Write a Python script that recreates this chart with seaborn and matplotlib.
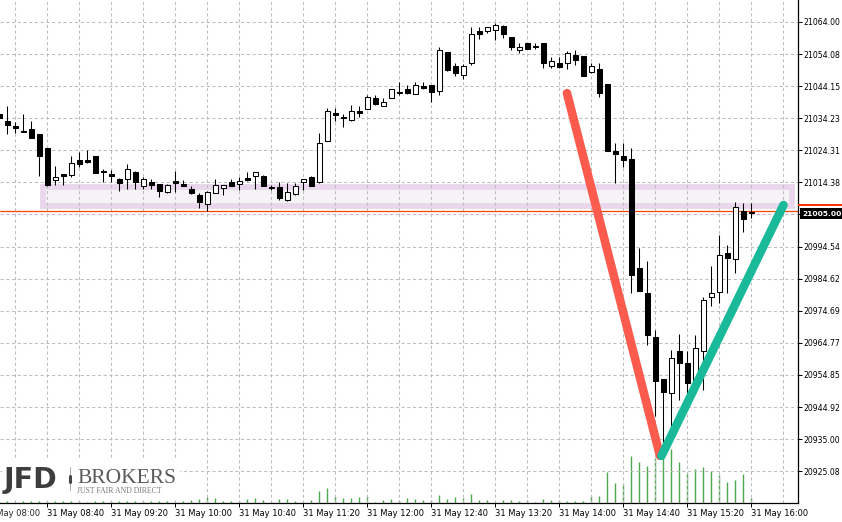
import numpy as np
import pandas as pd
import matplotlib
matplotlib.use("Agg")
import matplotlib.pyplot as plt
import matplotlib.dates as mdates
import matplotlib.transforms as mtransforms
from matplotlib.patches import Rectangle
from matplotlib.lines import Line2D
import seaborn as sns

# ---------------- data ----------------
times = pd.date_range("2024-05-31 08:10", periods=95, freq="5min")

opens = [21035.5, 21033.4, 21031.8, 21030.4, 21030.9, 21029.4, 21025.0, 21015.2, 21016.9, 21016.8,
         21021.2, 21021.3, 21022.5, 21017.9, 21016.9, 21015.3, 21015.5, 21017.6, 21013.4, 21014.4,
         21013.8, 21011.3, 21014.9, 21013.8, 21012.3, 21010.5, 21007.6, 21011.1, 21012.6, 21014.4,
         21013.8, 21015.7, 21016.3, 21016.4, 21013.1, 21013.1, 21008.9, 21010.8, 21014.5, 21016.0,
         21014.6, 21027.3, 21035.8, 21034.6, 21033.6, 21036.6, 21037.2, 21040.4, 21038.0, 21040.5,
         21042.4, 21043.3, 21041.6, 21044.2, 21044.4, 21042.7, 21054.6, 21050.4, 21047.5, 21051.2,
         21061.2, 21061.1, 21061.4, 21062.8, 21059.3, 21055.2, 21057.4, 21056.7, 21057.4, 21050.3,
         21051.2, 21051.4, 21053.8, 21053.5, 21048.4, 21049.4, 21044.8, 21024.0, 21022.5, 21021.5,
         20987.8, 20980.1, 20966.7, 20953.5, 20949.2, 20962.2, 20958.4, 20953.3, 20962.2, 20979.0,
         20980.4, 20992.6, 20990.6, 21005.6, 21005.1]

highs = [21036.5, 21038.0, 21033.2, 21035.5, 21033.4, 21029.4, 21025.0, 21019.5, 21017.0, 21022.6,
         21023.8, 21024.3, 21022.7, 21018.4, 21018.2, 21015.8, 21020.2, 21017.8, 21016.0, 21015.3,
         21013.9, 21014.0, 21018.0, 21015.1, 21013.3, 21011.2, 21011.7, 21015.4, 21013.6, 21015.4,
         21016.0, 21017.6, 21017.6, 21016.8, 21013.7, 21014.4, 21014.3, 21014.1, 21015.5, 21016.5,
         21029.6, 21037.4, 21037.3, 21035.5, 21038.2, 21038.1, 21041.5, 21041.3, 21040.6, 21043.3,
         21045.5, 21044.5, 21045.5, 21045.5, 21044.5, 21056.2, 21054.8, 21051.4, 21050.9, 21062.4,
         21062.5, 21062.5, 21063.6, 21063.1, 21059.5, 21057.4, 21057.5, 21057.6, 21057.5, 21053.3,
         21053.3, 21055.1, 21055.3, 21053.6, 21051.4, 21051.4, 21044.9, 21026.7, 21026.7, 21025.0,
         20994.0, 20990.1, 20968.7, 20953.6, 20962.5, 20967.5, 20962.3, 20967.2, 20978.9, 20988.5,
         20998.1, 20995.0, 21008.4, 21007.9, 21007.9]

lows = [21033.8, 21029.45, 21029.6, 21029.9, 21028.2, 21016.5, 21013.3, 21013.6, 21013.6, 21016.1,
        21019.2, 21020.3, 21017.2, 21014.5, 21014.5, 21011.6, 21012.3, 21012.3, 21012.3, 21012.3,
        21010.0, 21011.2, 21011.5, 21013.2, 21010.8, 21006.6, 21005.5, 21011.0, 21010.6, 21013.4,
        21012.0, 21014.8, 21012.4, 21013.3, 21012.0, 21008.9, 21008.7, 21010.5, 21012.0, 21013.3,
        21014.1, 21027.2, 21033.5, 21031.6, 21033.3, 21034.5, 21037.1, 21038.3, 21037.9, 21040.4,
        21041.5, 21041.6, 21041.6, 21043.4, 21039.3, 21041.4, 21048.9, 21047.4, 21046.5, 21050.7,
        21058.6, 21060.5, 21058.4, 21059.0, 21055.3, 21054.5, 21055.5, 21055.6, 21049.7, 21049.7,
        21049.7, 21049.6, 21050.7, 21047.3, 21048.1, 21040.9, 21024.1, 21014.1, 21019.1, 20980.3,
        20980.8, 20964.1, 20942.1, 20934.0, 20937.8, 20947.1, 20949.2, 20950.2, 20950.2, 20976.3,
        20977.2, 20980.1, 20986.3, 20999.1, 21003.3]

closes = [21034.3, 21032.2, 21031.3, 21030.1, 21028.2, 21022.6, 21013.6, 21016.1, 21016.5, 21020.3,
          21020.1, 21020.7, 21017.4, 21017.5, 21016.5, 21014.2, 21018.4, 21014.5, 21015.3, 21013.5,
          21011.8, 21013.7, 21014.3, 21013.3, 21011.1, 21008.4, 21011.3, 21013.5, 21013.5, 21013.4,
          21014.8, 21015.1, 21017.5, 21013.4, 21012.6, 21009.5, 21011.3, 21013.4, 21015.4, 21013.4,
          21026.5, 21036.5, 21035.3, 21034.2, 21036.4, 21036.0, 21040.7, 21038.5, 21039.2, 21043.2,
          21042.0, 21042.1, 21044.4, 21043.7, 21042.4, 21055.2, 21049.2, 21048.3, 21050.3, 21060.2,
          21060.2, 21062.4, 21063.2, 21060.2, 21056.4, 21056.2, 21055.6, 21056.2, 21051.2, 21052.0,
          21050.2, 21054.3, 21052.2, 21047.4, 21050.4, 21041.9, 21024.2, 21023.2, 21021.3, 20985.7,
          20980.9, 20967.2, 20953.1, 20949.7, 20960.0, 20958.4, 20952.3, 20963.1, 20978.0, 20980.1,
          20991.9, 20991.1, 21006.9, 21003.0, 21004.8]

volumes = [18, 20, 15, 22, 17, 25, 20, 18, 16, 22,
           19, 15, 20, 18, 21, 17, 23, 16, 19, 22,
           18, 20, 15, 20, 33, 43, 60, 53, 20, 17,
           23, 37, 53, 33, 10, 37, 37, 20, 10, 33,
           117, 153, 70, 50, 50, 60, 70, 10, 27, 43,
           33, 53, 43, 33, 27, 77, 37, 57, 50, 90,
           33, 27, 10, 27, 27, 17, 33, 7, 37, 33,
           27, 17, 17, 17, 67, 70, 313, 197, 193, 467,
           413, 370, 450, 480, 540, 407, 303, 343, 357, 317,
           283, 210, 230, 290, 47]

price_ticks = [21064.00, 21054.08, 21044.15, 21034.23, 21024.31, 21014.38,
               21004.46, 20994.54, 20984.62, 20974.69, 20964.77, 20954.85,
               20944.92, 20935.00, 20925.08]
hidden_tick = 21004.46   # covered by the last-price label in the reference

time_labels = ["08:40", "09:20", "10:00", "10:40", "11:20", "12:00", "12:40",
               "13:20", "14:00", "14:40", "15:20", "16:00"]
first_time_label = "08:00"

# resistance zone
zone_start, zone_end = "2024-05-31 08:37:30", "2024-05-31 16:25:30"
zone_low, zone_high = 21007.0, 21013.0

# drawn trend lines
red_times = ["2024-05-31 14:04:40", "2024-05-31 15:02:50"]
red_prices = [21042.0, 20929.8]
green_times = ["2024-05-31 15:03:45", "2024-05-31 16:20:00"]
green_prices = [20929.8, 21007.4]

last_price = 21005.00
bid_line_price = 21005.6
ask_price = 21007.4

view_start, view_end = "2024-05-31 08:10:19", "2024-05-31 16:29:04"
price_min, price_max = 20915.23, 21070.80
volume_max = 5030

# ---------------- plotting ----------------
sns.set_style("white")
plt.rcParams['font.family'] = ['DejaVu Sans']

d = lambda s: mdates.date2num(pd.Timestamp(s).to_pydatetime())
xnum = mdates.date2num(times.to_pydatetime())
five_min = 5 / 1440.0

fig = plt.figure(figsize=(8.42, 5.22), dpi=100)
fig.patch.set_facecolor('white')
ax = fig.add_axes([0, 19 / 522, 798 / 842, 503 / 522])
ax2 = ax.twinx()
ax.set_zorder(2)
ax2.set_zorder(1)
ax.patch.set_visible(False)
ax2.set_facecolor('white')

# volumes
ax2.vlines(xnum, 0, volumes, color='#4fa84f', lw=1.0)
ax2.set_ylim(0, volume_max)
ax2.set_yticks([])
for s in ax2.spines.values():
    s.set_visible(False)

# zone (behind grid and candles)
zx0, zx1 = d(zone_start), d(zone_end)
ax.add_patch(Rectangle((zx0, zone_low), zx1 - zx0, zone_high - zone_low,
                       facecolor='#f6f3f6', edgecolor='#ead6ec', lw=4.2, zorder=0.3))

# candles
o = np.array(opens); c = np.array(closes)
ax.vlines(xnum, lows, highs, color='black', lw=0.75, zorder=3)
bottoms = np.minimum(o, c)
heights = np.maximum(np.abs(c - o), 0.3)
colors = ['white' if cc >= oo else 'black' for oo, cc in zip(o, c)]
ax.bar(xnum, heights, bottom=bottoms, width=five_min * 5 / 8, color=colors,
       edgecolor='black', linewidth=0.75, zorder=4)

# bid line
ax.axhline(bid_line_price, color='#ff4500', lw=0.9, zorder=2)

# trend lines
sns.lineplot(x=[d(t) for t in red_times], y=red_prices, ax=ax, color='#fd5b4e',
             linewidth=6.2, solid_capstyle='round', zorder=7)
sns.lineplot(x=[d(t) for t in green_times], y=green_prices, ax=ax, color='#19b999',
             linewidth=6.2, solid_capstyle='round', zorder=7)

# axes
ax.set_xlim(d(view_start), d(view_end))
ax.set_ylim(price_min, price_max)
ax.set_xlabel('')
ax.set_ylabel('')

ax.yaxis.tick_right()
ax.set_yticks(price_ticks)
ax.set_yticklabels(["" if v == hidden_tick else f"{v:.2f}" for v in price_ticks])
ax.tick_params(axis='y', which='major', length=3, width=0.7, pad=1, labelsize=5.6,
               colors='black', right=True, left=False)

major_x = [d("2024-05-31 " + t) for t in time_labels]
ax.set_xticks(major_x)
ax.set_xticklabels(["31 May " + t for t in time_labels])
grid_minor = mdates.date2num(pd.date_range("2024-05-31 08:20", "2024-05-31 16:20",
                                           freq="20min").to_pydatetime())
ax.set_xticks(grid_minor, minor=True)
ax.tick_params(axis='x', which='minor', length=0)
ax.tick_params(axis='x', which='major', length=3, width=0.7, pad=1.5, labelsize=6,
               colors='black', bottom=True)
plt.setp(ax.get_xticklabels(), ha='left')

grid_kw = dict(color='#bdbdbd', lw=0.75, ls=(0, (3, 2.5)))
ax.grid(axis='y', which='major', **grid_kw)
ax.grid(axis='x', which='both', **grid_kw)
ax.set_axisbelow(True)

for side in ['left', 'top']:
    ax.spines[side].set_visible(False)
for side in ['right', 'bottom']:
    ax.spines[side].set_visible(True)
    ax.spines[side].set_color('black')
    ax.spines[side].set_linewidth(0.9)

# first time label (cut off at left edge, as in the reference)
lbl_trans = mtransforms.offset_copy(
    mtransforms.blended_transform_factory(ax.transData, ax.transAxes),
    fig=fig, y=-4.5, units='points')
ax.text(d("2024-05-31 " + first_time_label), 0, "31 May " + first_time_label,
        transform=lbl_trans, va='top', ha='left', fontsize=6, clip_on=False)

# price label box and ask marker on right axis
ytrans = mtransforms.blended_transform_factory(ax.transAxes, ax.transData)
ax.add_patch(Rectangle((1.0025, last_price - 2.03), 0.07, 3.41, transform=ytrans,
                       facecolor='black', edgecolor='none', clip_on=False, zorder=10))
ax.text(1.0058, last_price - 0.3, f"{last_price:.2f}", transform=ytrans, color='white',
        fontsize=5.4, fontweight='bold', va='center', ha='left', zorder=11, clip_on=False)
ax.add_patch(Rectangle((1.0, ask_price - 0.31), 0.07, 0.62, transform=ytrans,
                       facecolor='#ff3300', edgecolor='none', clip_on=False, zorder=10))

# logo
fig.add_artist(Rectangle((2 / 842, (522 - 499) / 522), 178 / 842, 40 / 522,
                         transform=fig.transFigure, facecolor='white', edgecolor='none',
                         zorder=5))
fig.text(4 / 842, (522 - 488) / 522, "JFD", fontsize=20.5, fontweight='bold',
         color='#3d3d3d', va='baseline', ha='left', zorder=6)
fig.add_artist(Line2D([70 / 842, 70 / 842], [(522 - 490) / 522, (522 - 467) / 522],
                      transform=fig.transFigure, color='#aaaaaa', lw=0.7, zorder=6))
fig.add_artist(Line2D([70 / 842, 70 / 842], [(522 - 482) / 522, (522 - 476) / 522],
                      transform=fig.transFigure, color='#444444', lw=2.2, zorder=6))
fig.text(77 / 842, (522 - 483) / 522, "BROKERS", fontsize=15.5, family='Liberation Serif',
         color='#5a5a5a', va='baseline', ha='left', zorder=6)
fig.text(77 / 842, (522 - 493) / 522, "JUST FAIR AND DIRECT", fontsize=5.6,
         family='Liberation Serif', color='#777777', va='baseline', ha='left', zorder=6)

fig.savefig("out.png", dpi=100, facecolor='white')
